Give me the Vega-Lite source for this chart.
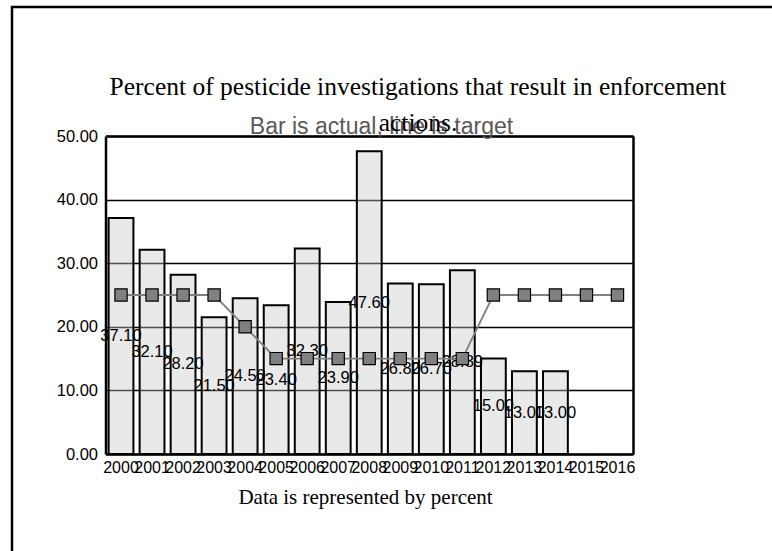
{
  "$schema": "https://vega.github.io/schema/vega-lite/v6.json",
  "autosize": {"type": "none"},
  "padding": {"left": 12, "top": 7, "right": 0, "bottom": 0},
  "width": 800,
  "height": 600,
  "background": "white",
  "config": {
    "view": {"stroke": "black", "strokeWidth": 2.5},
    "font": "Liberation Sans"
  },
  "title": {
    "text": ["Percent of pesticide investigations that result in enforcement", "actions."],
    "font": "Liberation Serif",
    "fontSize": 25.5,
    "fontWeight": "normal",
    "color": "black",
    "anchor": "middle",
    "frame": "group",
    "baseline": "top",
    "lineHeight": 36,
    "offset": -129,
    "dx": 6
  },
  "data": {
    "values": [
      {"year": "2000", "actual": 37.1, "target": 25},
      {"year": "2001", "actual": 32.1, "target": 25},
      {"year": "2002", "actual": 28.2, "target": 25},
      {"year": "2003", "actual": 21.5, "target": 25},
      {"year": "2004", "actual": 24.5, "target": 20},
      {"year": "2005", "actual": 23.4, "target": 15},
      {"year": "2006", "actual": 32.3, "target": 15},
      {"year": "2007", "actual": 23.9, "target": 15},
      {"year": "2008", "actual": 47.6, "target": 15},
      {"year": "2009", "actual": 26.8, "target": 15},
      {"year": "2010", "actual": 26.7, "target": 15},
      {"year": "2011", "actual": 28.89, "target": 15},
      {"year": "2012", "actual": 15.0, "target": 25},
      {"year": "2013", "actual": 13.0, "target": 25},
      {"year": "2014", "actual": 13.0, "target": 25},
      {"year": "2015", "actual": null, "target": 25},
      {"year": "2016", "actual": null, "target": 25}
    ]
  },
  "layer": [
    {
      "mark": {"type": "bar", "fill": "#c8c8c8", "fillOpacity": 0.4, "stroke": "black", "strokeWidth": 2},
      "encoding": {
        "x": {
          "field": "year", "type": "ordinal",
          "scale": {"range": [93.5, 621], "paddingInner": 0.2, "paddingOuter": 0.1},
          "axis": {
            "orient": "bottom", "offset": -153, "labelAngle": 0, "labelOverlap": false,
            "labelFont": "Liberation Sans", "labelFontSize": 16, "labelColor": "black", "labelPadding": 5,
            "ticks": false, "domainColor": "black", "domainWidth": 2.5, "grid": false,
            "title": "Data is represented by percent",
            "titleFont": "Liberation Serif", "titleFontSize": 21, "titleFontWeight": "normal", "titleColor": "black",
            "titleBaseline": "middle", "titleAlign": "center", "titleX": 353, "titleY": 43
          }
        },
        "y": {
          "field": "actual", "type": "quantitative",
          "scale": {"domain": [0, 50], "range": [447, 129], "nice": false, "zero": true},
          "axis": {
            "orient": "left", "offset": -93.5, "values": [0, 10, 20, 30, 40, 50], "format": ".2f",
            "labelFont": "Liberation Sans", "labelFontSize": 16.5, "labelColor": "black", "labelPadding": 8,
            "ticks": false, "domainColor": "black", "domainWidth": 2.5,
            "grid": true, "gridColor": "black", "gridWidth": 1.3, "gridOpacity": 1,
            "title": null
          }
        }
      }
    },
    {
      "transform": [
        {"filter": "datum.actual != null"},
        {"calculate": "datum.actual / 2", "as": "mid"}
      ],
      "mark": {"type": "text", "font": "Liberation Sans", "fontSize": 16.5, "color": "black", "align": "center", "baseline": "middle"},
      "encoding": {
        "x": {"field": "year", "type": "ordinal", "axis": null},
        "y": {"field": "mid", "type": "quantitative", "axis": null},
        "text": {"field": "actual", "type": "quantitative", "format": ".2f"}
      }
    },
    {
      "mark": {"type": "line", "color": "#808080", "strokeWidth": 1.8},
      "encoding": {
        "x": {
          "field": "year", "type": "ordinal",
          "axis": {
            "orient": "top", "offset": -129, "labels": false, "ticks": false, "grid": false,
            "domainColor": "black", "domainWidth": 2.5,
            "title": "Bar is actual, line is target",
            "titleFont": "Liberation Sans", "titleFontSize": 23, "titleFontWeight": "normal", "titleColor": "#595959",
            "titleBaseline": "middle", "titleAlign": "center", "titleX": 369, "titleY": -10
          }
        },
        "y": {
          "field": "target", "type": "quantitative",
          "axis": {
            "orient": "right", "offset": -179, "labels": false, "ticks": false, "grid": false,
            "domainColor": "black", "domainWidth": 2.5, "title": null
          }
        }
      }
    },
    {
      "mark": {"type": "point", "shape": "square", "size": 150, "filled": true, "fill": "#808080", "stroke": "black", "strokeWidth": 1.2, "opacity": 1},
      "encoding": {
        "x": {"field": "year", "type": "ordinal", "axis": null},
        "y": {"field": "target", "type": "quantitative", "axis": null}
      }
    }
  ],
  "resolve": {"axis": {"x": "independent", "y": "independent"}}
}
